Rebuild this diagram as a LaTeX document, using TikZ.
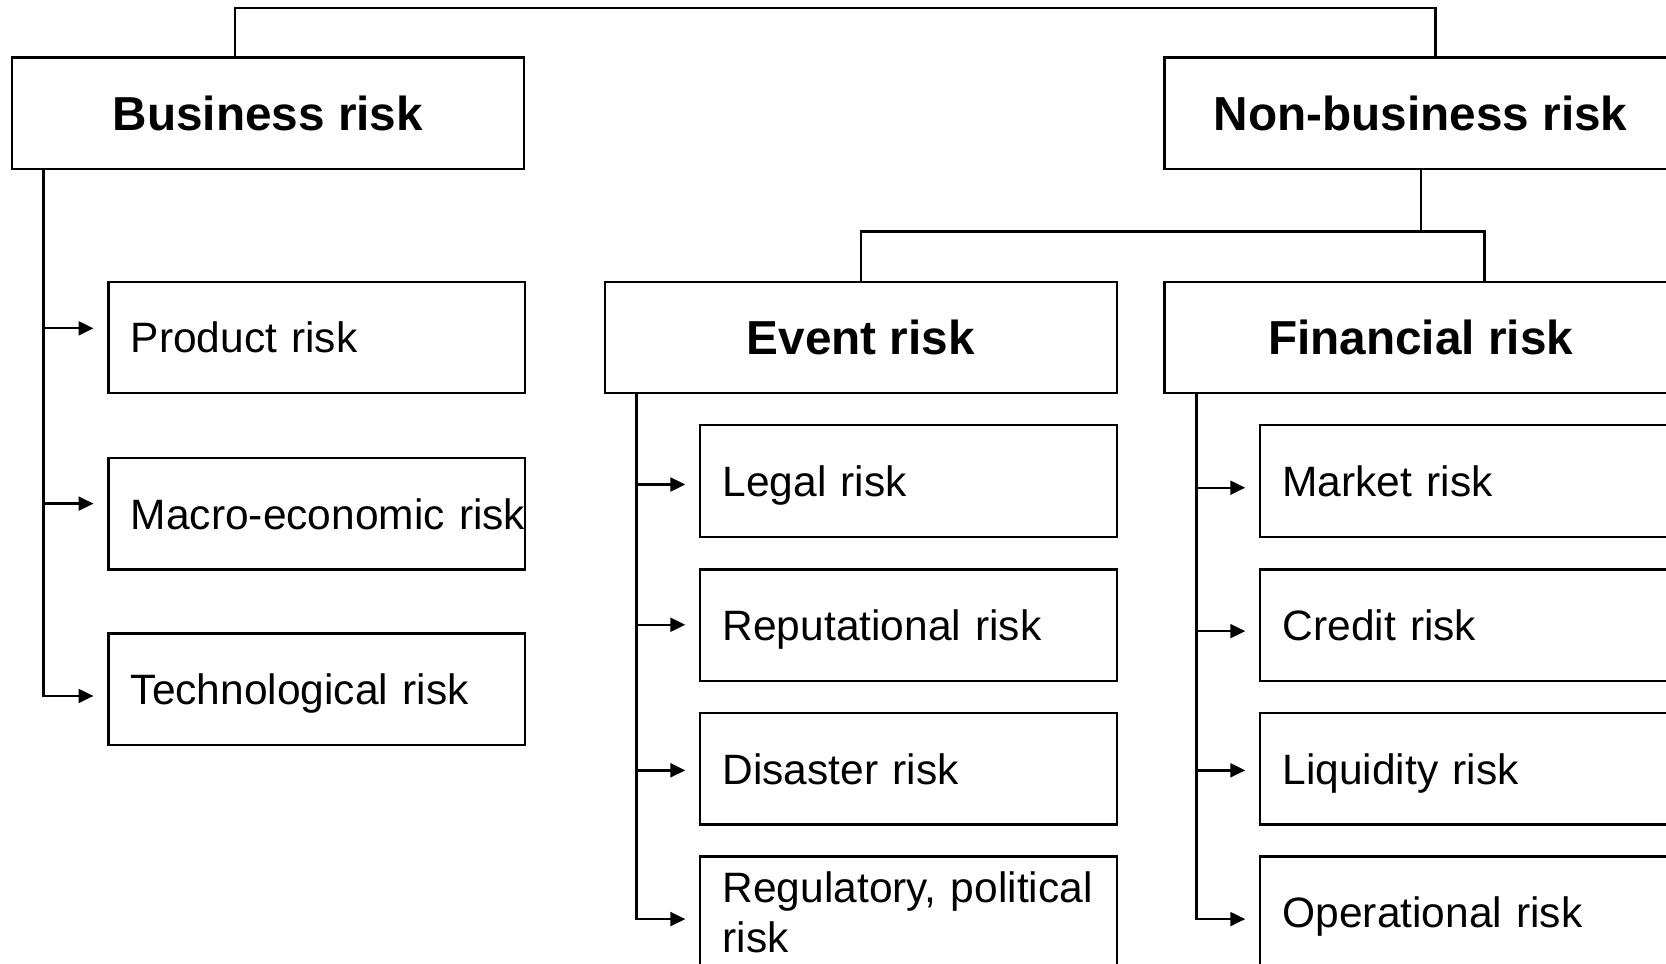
\documentclass[tikz,border=0pt]{standalone}
\usepackage{fontspec}
\setmainfont{Liberation Sans}
\usetikzlibrary{arrows.meta}
\begin{document}
\begin{tikzpicture}[x=0.5pt,y=-0.5pt, line width=1.1pt,
  hbox/.style={draw, anchor=north west, minimum width=241pt, minimum height=52.5pt, inner sep=0pt,
    font=\fontsize{22.45}{26}\selectfont\bfseries, text height=16.1pt, text depth=0pt},
  sbox/.style={draw, anchor=north west, minimum width=196pt, minimum height=52.5pt,
    inner xsep=10.5pt, inner ysep=0pt, text width=175pt, align=left,
    font=\fontsize{20}{23.5}\selectfont, text height=14.3pt, text depth=0pt},
  arr/.style={-{Triangle[length=7pt,width=6.5pt]}, shorten >=6.5pt}
]
\clip (0,0) rectangle (1568,907);

% header boxes
\node[hbox] (biz) at (10,53) {Business risk};
\node[hbox] (nb) at (1095,53) {Non-business risk};
\node[hbox] (ev) at (568,264) {Event risk};
\node[hbox] (fin) at (1095,264) {Financial risk};

% business risk children
\node[sbox] (prod) at (101,264) {Product risk};
\node[sbox] (macro) at (101,430) {\mbox{Macro-economic risk}};
\node[sbox] (tech) at (101,595) {Technological risk};

% event risk children
\node[sbox] (legal) at (658,399) {Legal risk};
\node[sbox] (rep) at (658,535) {Reputational risk};
\node[sbox] (dis) at (658,670) {Disaster risk};
\node[sbox, text depth=23.5pt] (reg) at (658,805) {\mbox{Regulatory, political}\\risk};

% financial risk children
\node[sbox] (mkt) at (1185,399) {Market risk};
\node[sbox] (cred) at (1185,535) {Credit risk};
\node[sbox] (liq) at (1185,670) {Liquidity risk};
\node[sbox] (op) at (1185,805) {Operational risk};

% top connector
\coordinate (tl) at (221,7.5);
\coordinate (tr) at (1351,7.5);
\draw (biz.north -| tl) -- (tl) -- (tr) -- (tr |- nb.north);

% non-business to event / financial
\coordinate (fr) at (1397,218);
\draw (nb.south) -- (nb.south |- fr);
\draw (ev.north) |- (fr) -- (fr |- fin.north);

% business trunk
\coordinate (b1) at (41,309);
\coordinate (b2) at (41,474);
\coordinate (b3) at (41,655);
\draw[arr] (biz.south -| b1) |- (b3 -| tech.west);
\draw[arr] (b1) -- (b1 -| prod.west);
\draw[arr] (b2) -- (b2 -| macro.west);

% event trunk
\coordinate (e1) at (599,456);
\coordinate (e2) at (599,588);
\coordinate (e3) at (599,725);
\coordinate (e4) at (599,865);
\draw[arr] (ev.south -| e1) |- (e4 -| reg.west);
\draw[arr] (e1) -- (e1 -| legal.west);
\draw[arr] (e2) -- (e2 -| rep.west);
\draw[arr] (e3) -- (e3 -| dis.west);

% financial trunk
\coordinate (f1) at (1126,459);
\coordinate (f2) at (1126,594);
\coordinate (f3) at (1126,725);
\coordinate (f4) at (1126,865);
\draw[arr] (fin.south -| f1) |- (f4 -| op.west);
\draw[arr] (f1) -- (f1 -| mkt.west);
\draw[arr] (f2) -- (f2 -| cred.west);
\draw[arr] (f3) -- (f3 -| liq.west);
\end{tikzpicture}
\end{document}
